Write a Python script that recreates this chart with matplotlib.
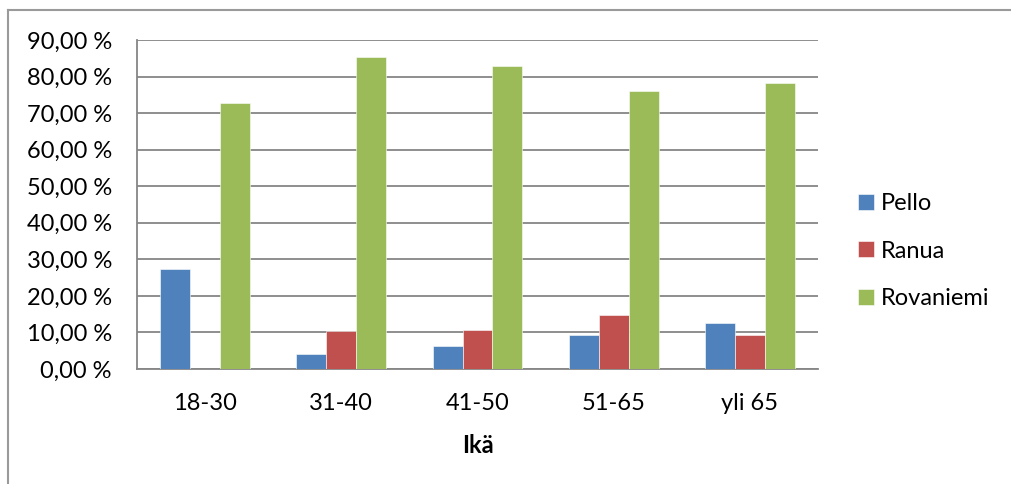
import numpy as np
import matplotlib
matplotlib.use('Agg')
import matplotlib.pyplot as plt
from matplotlib.ticker import FuncFormatter, MultipleLocator
from matplotlib.lines import Line2D

plt.rcParams['font.family'] = ['Lato', 'DejaVu Sans']

ages = ['18-30', '31-40', '41-50', '51-65', 'yli 65']
pello = [27.3, 4.2, 6.4, 9.3, 12.5]
ranua = [0.0, 10.4, 10.7, 14.8, 9.3]
rovaniemi = [72.7, 85.4, 83.0, 76.0, 78.3]

series = [('Pello', pello, '#4F81BD'),
          ('Ranua', ranua, '#C0504D'),
          ('Rovaniemi', rovaniemi, '#9BBB59')]

fs = 17

fig = plt.figure(figsize=(10.11, 4.84), dpi=100)
ax = fig.add_axes([0.1355, 0.2376, 0.6736, 0.6798])

x = np.arange(len(ages))
w = 0.22
for i, (name, vals, col) in enumerate(series):
    ax.bar(x + (i - 1) * w, vals, w, color=col, label=name, zorder=3,
           edgecolor='white', linewidth=0.4)

ax.set_xlim(-0.5, len(ages) - 0.5)
ax.set_ylim(0, 90)
ax.yaxis.set_major_locator(MultipleLocator(10))
ax.yaxis.set_major_formatter(FuncFormatter(lambda v, p: f'{v:.2f} %'.replace('.', ',')))
ax.set_xticks(x)
ax.set_xticklabels(ages)
ax.tick_params(axis='both', length=0, labelsize=fs, colors='black')
ax.tick_params(axis='x', pad=17)
ax.tick_params(axis='y', pad=18)
ax.grid(axis='y', color='#868686', linewidth=1.3, zorder=0)

for s in ['top', 'right']:
    ax.spines[s].set_visible(False)
for s in ['left', 'bottom']:
    ax.spines[s].set_color('#868686')
    ax.spines[s].set_linewidth(1.3)

ax.set_xlabel('Ikä', fontsize=fs, fontweight='bold', labelpad=15)

fig.legend(loc='center left', bbox_to_anchor=(858 / 1011, 1 - 251 / 484),
           frameon=False, fontsize=fs, handlelength=0.68, handleheight=0.68,
           handletextpad=0.3, labelspacing=1.12, borderpad=0, borderaxespad=0)

# outer chart frame (left and top edges)
fig.add_artist(Line2D([8 / 1011, 8 / 1011], [0, 1 - 10 / 484],
                      color='#9a9a9a', linewidth=1.5, transform=fig.transFigure))
fig.add_artist(Line2D([8 / 1011, 1], [1 - 10 / 484, 1 - 10 / 484],
                      color='#9a9a9a', linewidth=1.5, transform=fig.transFigure))

fig.savefig('out.png', dpi=100, facecolor='white')
